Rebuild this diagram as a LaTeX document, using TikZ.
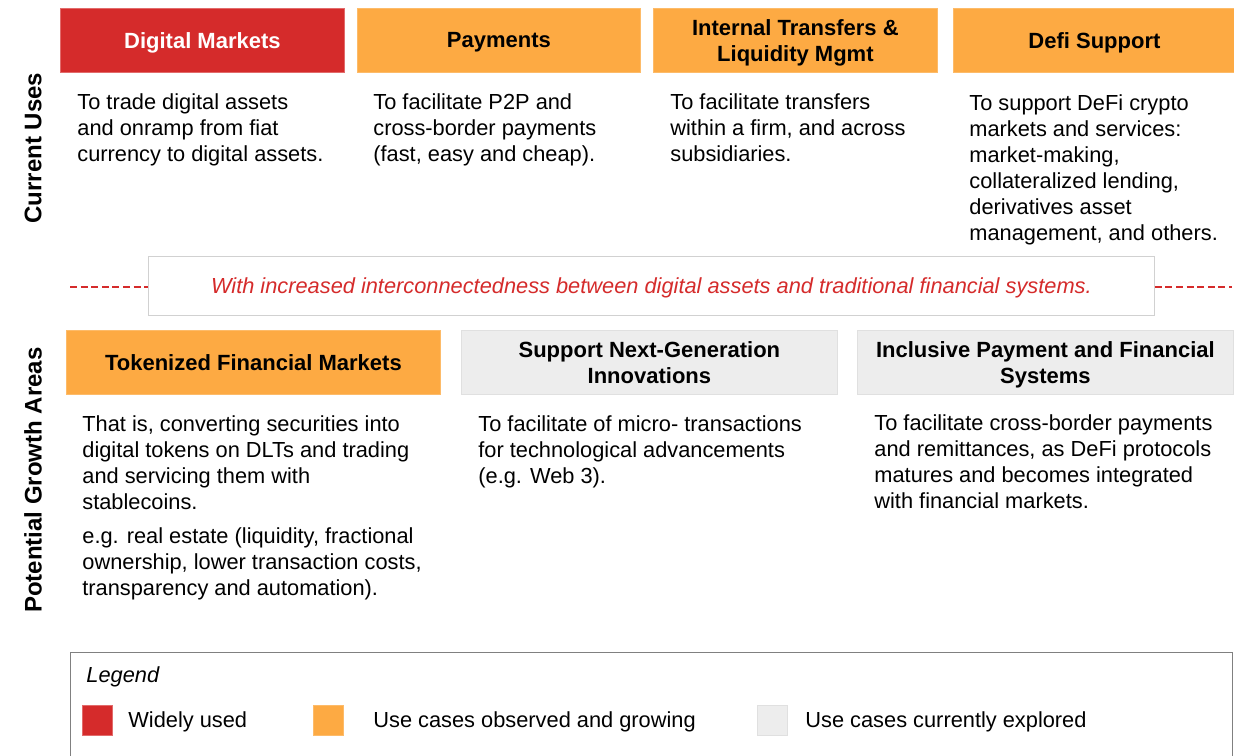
\documentclass[tikz,border=0pt]{standalone}
\usepackage{fontspec}
\setmainfont{Liberation Sans}
\definecolor{usered}{HTML}{D52B2B}
\definecolor{useorange}{HTML}{FDAA43}
\definecolor{usegray}{HTML}{EDEDED}

\begin{document}
\begin{tikzpicture}[x = 0.5pt, y = -0.5pt,
  head/.style = {anchor = north west, minimum height = 32pt, inner sep = 0pt, text depth = 0pt, align = center, font = \fontsize{11}{13}\selectfont\bfseries},
  orangehead/.style = {head, fill = useorange, draw = useorange!80!white},
  grayhead/.style = {head, fill = usegray, draw = black!12},
  txt/.style = {anchor = north west, inner sep = 0pt, align = left, font = \fontsize{10.9}{13}\selectfont},
  side/.style = {rotate = 90, font = \fontsize{12}{14}\selectfont\bfseries},
  keybox/.style = {anchor = north west, minimum size = 15pt, inner sep = 0pt},
  keytxt/.style = {anchor = west, inner sep = 0pt, font = \fontsize{10.9}{13}\selectfont},
  link/.style = {draw = usered, line width = 0.7pt, dash pattern = on 3.5pt off 1.8pt}
]
\clip (0,0) rectangle (1234,755);

\node[side] (CU) at (33,148) {Current Uses};
\node[side] (PGA) at (33,480) {Potential Growth Areas};

\node[head, fill = usered, draw = usered!70!white, text = white, minimum width = 142pt] (DM) at (60,8) {Digital Markets};
\node[orangehead, minimum width = 141.5pt] (PAY) at (357,8) {Payments};
\node[orangehead, minimum width = 142pt] (ITL) at (653,8) {Internal Transfers \&\\Liquidity Mgmt};
\node[orangehead, minimum width = 141pt] (DEFI) at (953,8) {Defi Support};

\node[txt] (DMt) at (77,93) {To trade digital assets\\and onramp from fiat\\currency to digital assets.};
\node[txt] (PAYt) at (373,93) {To facilitate P2P and\\cross-border payments\\(fast, easy and cheap).};
\node[txt] (ITLt) at (670,93) {To facilitate transfers\\within a firm, and across\\subsidiaries.};
\node[txt] (DEFIt) at (969,94) {To support DeFi crypto\\markets and services:\\market-making,\\collateralized lending,\\derivatives asset\\management, and others.};

\node[anchor = north west, draw = black!18, fill = white, minimum width = 503pt, minimum height = 29.5pt, inner sep = 0pt, text depth = 0pt, text = usered, font = \fontsize{10.9}{13}\selectfont\itshape] (BAN) at (148,256) {With increased interconnectedness between digital assets and traditional financial systems.};
\coordinate (DL) at (70,287);
\coordinate (DR) at (1232,287);
\draw[link] (DL) -- (DL -| BAN.west);
\draw[link] (DR -| BAN.east) -- (DR);

\node[orangehead, minimum width = 187pt] (TFM) at (66,330) {Tokenized Financial Markets};
\node[grayhead, minimum width = 188pt] (NGI) at (461,330) {Support Next-Generation\\Innovations};
\node[grayhead, minimum width = 188pt] (IPF) at (857,330) {Inclusive Payment and Financial\\Systems};

\node[txt] (TFMt) at (82,415) {That is, converting securities into\\digital tokens on DLTs and trading\\and servicing them with\\stablecoins.\\[4pt]e.g. real estate (liquidity, fractional\\ownership, lower transaction costs,\\transparency and automation).};
\node[txt] (NGIt) at (478,415) {To facilitate of micro- transactions\\for technological advancements\\(e.g. Web 3).};
\node[txt] (IPFt) at (874,414) {To facilitate cross-border payments\\and remittances, as DeFi protocols\\matures and becomes integrated\\with financial markets.};

\node[anchor = north west, draw = black!50, line width = 0.6pt, minimum width = 581pt, minimum height = 60pt, inner sep = 0pt] (LEG) at (70,652) {};
\node[keytxt, font = \fontsize{10.9}{13}\selectfont\itshape] (LEGt) at (86,677) {Legend};
\node[keybox, fill = usered, draw = usered!70!white] (K1) at (82,705) {};
\node[keybox, fill = useorange, draw = useorange!80!white] (K2) at (313,705) {};
\node[keybox, fill = usegray, draw = black!12] (K3) at (757,705) {};
\node[keytxt] (K1t) at (128,722) {Widely used};
\node[keytxt] (K2t) at (373,722) {Use cases observed and growing};
\node[keytxt] (K3t) at (805,722) {Use cases currently explored};
\end{tikzpicture}
\end{document}
